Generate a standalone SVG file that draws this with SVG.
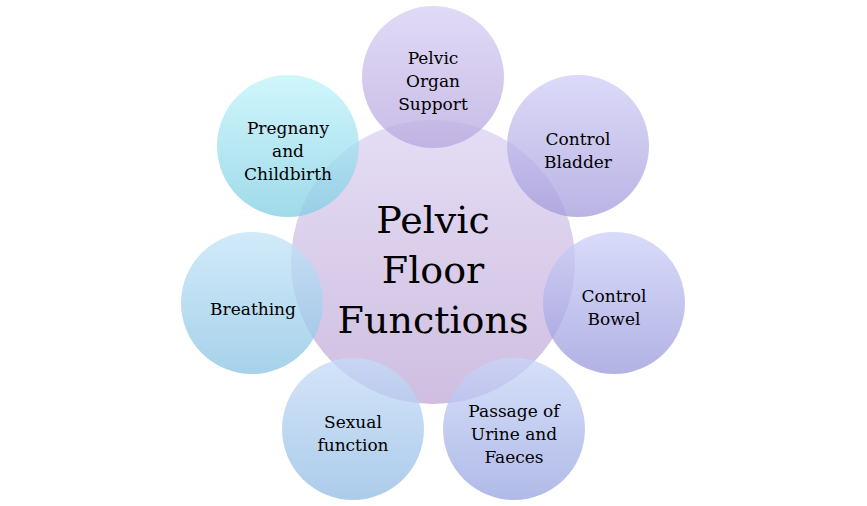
<svg xmlns="http://www.w3.org/2000/svg" width="867" height="506" viewBox="0 0 867 506">
<defs>
<linearGradient id="gC" x1="0" y1="0" x2="0" y2="1"><stop offset="0" stop-color="rgb(220,210,242)"/><stop offset="1" stop-color="rgb(191,168,214)"/></linearGradient>
<linearGradient id="g1" x1="0" y1="0" x2="0" y2="1"><stop offset="0" stop-color="rgb(214,206,243)"/><stop offset="1" stop-color="rgb(182,166,222)"/></linearGradient>
<linearGradient id="g2" x1="0" y1="0" x2="0" y2="1"><stop offset="0" stop-color="rgb(208,206,246)"/><stop offset="1" stop-color="rgb(163,155,219)"/></linearGradient>
<linearGradient id="g3" x1="0" y1="0" x2="0" y2="1"><stop offset="0" stop-color="rgb(203,208,248)"/><stop offset="1" stop-color="rgb(152,152,219)"/></linearGradient>
<linearGradient id="g4" x1="0" y1="0" x2="0" y2="1"><stop offset="0" stop-color="rgb(200,214,248)"/><stop offset="1" stop-color="rgb(150,163,224)"/></linearGradient>
<linearGradient id="g5" x1="0" y1="0" x2="0" y2="1"><stop offset="0" stop-color="rgb(198,219,248)"/><stop offset="1" stop-color="rgb(144,187,227)"/></linearGradient>
<linearGradient id="g6" x1="0" y1="0" x2="0" y2="1"><stop offset="0" stop-color="rgb(195,227,248)"/><stop offset="1" stop-color="rgb(136,195,227)"/></linearGradient>
<linearGradient id="g7" x1="0" y1="0" x2="0" y2="1"><stop offset="0" stop-color="rgb(192,243,251)"/><stop offset="1" stop-color="rgb(128,206,227)"/></linearGradient>
</defs>
<style>
circle { fill-opacity: 0.75; stroke: none; }
text { font-family: "DejaVu Serif", "Liberation Serif", serif; fill: #000; text-anchor: middle; }
.s { font-size: 17px; }
.b { font-size: 38px; }
</style>
<rect width="867" height="506" fill="#fff"/>
<g id="center"><circle cx="433" cy="262" r="142" fill="url(#gC)"/></g>
<g id="n-organ"><circle cx="433" cy="77" r="71" fill="url(#g1)"/></g>
<g id="n-bladder"><circle cx="578" cy="146" r="71" fill="url(#g2)"/></g>
<g id="n-bowel"><circle cx="614" cy="303" r="71" fill="url(#g3)"/></g>
<g id="n-passage"><circle cx="514" cy="429" r="71" fill="url(#g4)"/></g>
<g id="n-sexual"><circle cx="353" cy="429" r="71" fill="url(#g5)"/></g>
<g id="n-breathing"><circle cx="252" cy="303" r="71" fill="url(#g6)"/></g>
<g id="n-pregnancy"><circle cx="288" cy="146" r="71" fill="url(#g7)"/></g>
<g id="connectors"></g>
<g id="labels">
<text class="b" x="433" y="233">Pelvic</text>
<text class="b" x="433" y="283">Floor</text>
<text class="b" x="433" y="333">Functions</text>
<text class="s" x="433" y="64">Pelvic</text>
<text class="s" x="433" y="87">Organ</text>
<text class="s" x="433" y="110">Support</text>
<text class="s" x="578" y="145">Control</text>
<text class="s" x="578" y="168">Bladder</text>
<text class="s" x="614" y="302">Control</text>
<text class="s" x="614" y="325">Bowel</text>
<text class="s" x="514" y="417">Passage of</text>
<text class="s" x="514" y="440">Urine and</text>
<text class="s" x="514" y="463">Faeces</text>
<text class="s" x="353" y="428">Sexual</text>
<text class="s" x="353" y="451">function</text>
<text class="s" x="253" y="315">Breathing</text>
<text class="s" x="288" y="134">Pregnany</text>
<text class="s" x="288" y="157">and</text>
<text class="s" x="288" y="180">Childbirth</text>
</g>
</svg>
